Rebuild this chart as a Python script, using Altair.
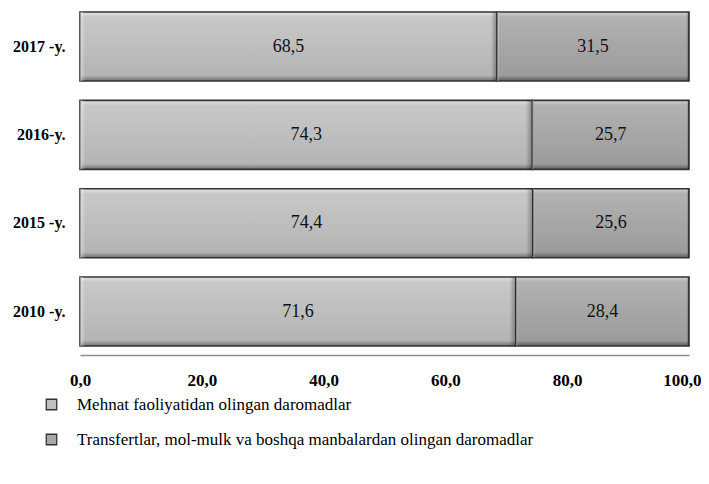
import altair as alt
import pandas as pd

years = ["2017 -y.", "2016-y.", "2015 -y.", "2010 -y."]
labor = [68.5, 74.3, 74.4, 71.6]
other = [31.5, 25.7, 25.6, 28.4]
series = [
    "Mehnat faoliyatidan olingan daromadlar",
    "Transfertlar, mol-mulk va boshqa manbalardan olingan daromadlar",
]
ticks = [0, 20, 40, 60, 80, 100]
base_colors = ["#bfbfbf", "#a6a6a6"]

rows = []
for i, y in enumerate(years):
    rows.append({"year": y, "series": series[0], "value": labor[i], "order": 0})
    rows.append({"year": y, "series": series[1], "value": other[i], "order": 1})
df = pd.DataFrame(rows)

FONT = "Liberation Serif"

base = (
    alt.Chart(df)
    .transform_stack(
        stack="value", groupby=["year"], as_=["x0", "x1"],
        sort=[alt.SortField("order", order="ascending")],
    )
    .transform_calculate(
        mid="(datum.x0 + datum.x1) / 2",
        lab="replace(format(datum.value, '.1f'), '.', ',')",
    )
)

yenc = alt.Y(
    "year:N", sort=years, title=None,
    scale=alt.Scale(paddingInner=0.219, paddingOuter=0.0737, align=0.31),
    axis=alt.Axis(domain=False, ticks=False, labelFont=FONT, labelFontSize=16,
                  labelFontWeight="bold", labelColor="#000", labelPadding=15),
)
xenc = alt.X(
    "x0:Q", title=None,
    scale=alt.Scale(domain=[0, 100], nice=False),
    axis=alt.Axis(values=ticks, grid=False, ticks=False, domainColor="#8c8c8c",
                  domainWidth=1.6, labelFont=FONT, labelFontSize=17,
                  labelFontWeight="bold", labelColor="#000", labelPadding=17,
                  labelExpr="replace(format(datum.value, '.1f'), '.', ',')",
                  labelAlign={"expr": "datum.value == 100 ? 'right' : 'center'"},
                  labelOffset={"expr": "datum.value == 100 ? 12 : 0"},
                  labelFlush=False),
)

bars = base.mark_bar().encode(
    x=xenc, x2="x1:Q", y=yenc,
    color=alt.Color(
        "series:N", sort=series,
        scale=alt.Scale(domain=series, range=base_colors),
        legend=alt.Legend(
            title=None, orient="none", legendX=-37, legendY=388, direction="vertical",
            labelFont=FONT, labelFontSize=17, labelColor="#000", labelLimit=700,
            symbolType="square", symbolSize=110, symbolStrokeColor="#333",
            symbolStrokeWidth=1.3, rowPadding=17, labelOffset=17,
        ),
    ),
)

grads = [
    [("#e6e6e6", 0), ("#c8c8c8", 0.07), ("#bebebe", 0.5), ("#b4b4b4", 0.92), ("#6e6e6e", 1)],
    [("#d2d2d2", 0), ("#b2b2b2", 0.07), ("#a6a6a6", 0.5), ("#9c9c9c", 0.92), ("#5c5c5c", 1)],
]
layers = [bars]
for s, g in zip(series, grads):
    sub = base.transform_filter(alt.datum.series == s)
    layers.append(
        sub.mark_bar(
            fill=alt.Gradient(
                gradient="linear", x1=0, y1=0, x2=0, y2=1,
                stops=[alt.GradientStop(color=c, offset=o) for c, o in g],
            ),
            stroke="#333333", strokeWidth=1.6,
        ).encode(x="x0:Q", x2="x1:Q", y=alt.Y("year:N", sort=years))
    )
    layers.append(
        sub.mark_bar(
            fill=alt.Gradient(
                gradient="linear", x1=0, y1=0, x2=1, y2=0,
                stops=[
                    alt.GradientStop(color="rgba(255,255,255,0.45)", offset=0),
                    alt.GradientStop(color="rgba(255,255,255,0)", offset=0.012),
                    alt.GradientStop(color="rgba(0,0,0,0)", offset=0.985),
                    alt.GradientStop(color="rgba(0,0,0,0.35)", offset=1),
                ],
            ),
        ).encode(x="x0:Q", x2="x1:Q", y=alt.Y("year:N", sort=years))
    )

labels = base.mark_text(font=FONT, fontSize=18, color="#111").encode(
    x="mid:Q", y=alt.Y("year:N", sort=years), text="lab:N"
)
layers.append(labels)

chart = (
    alt.layer(*layers)
    .properties(
        width=609, height=347,
        autosize=alt.AutoSizeParams(type="none"),
        padding={"left": 72, "top": 0, "right": 12, "bottom": 118},
    )
    .configure_view(stroke=None)
)

chart.save("out.html", embed_options={"renderer": "svg", "actions": False})
